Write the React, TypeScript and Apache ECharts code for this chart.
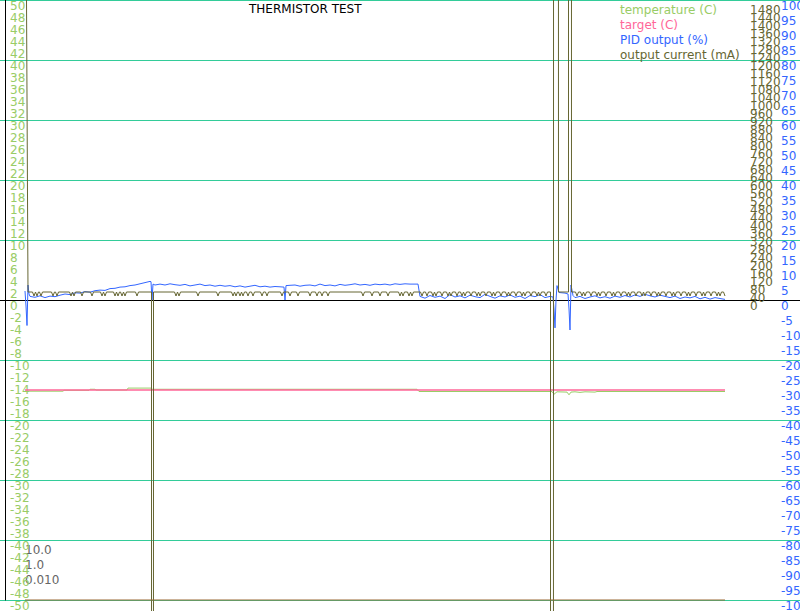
import React, { useEffect, useRef } from 'react';
import * as echarts from 'echarts';

const chartTitle = 'THERMISTOR TEST';
const seriesNames = ['temperature (C)', 'target (C)', 'PID output (%)', 'output current (mA)'];
const seriesColors = ['#99cc66', '#ff6699', '#3366ff', '#666633'];
const pidGains = ['10.0', '1.0', '0.010'];
const FONT = 'DejaVu Sans';

// time (s) , temperature (C)
const temperature: [number, number][] = [
  [0, -15.2], [38, -15.2], [39, -15.05], [64, -15.05], [65, -14.88], [70, -14.88], [71, -15.0],
  [102, -15.0], [103, -14.68], [126, -14.68], [127, -14.88], [392, -14.88], [394, -15.25],
  [527, -15.25], [529, -15.7], [532, -15.3], [542, -15.35], [544, -15.8], [546, -15.35],
  [550, -15.3], [555, -15.4], [560, -15.3], [570, -15.35], [572, -15.25], [700, -15.25],
];

const target: [number, number][] = [[0, -15], [700, -15]];

const floorTrace: [number, number][] = [[0, -50], [700, -50]];

// time (s), PID output (%)
const pidOutput: [number, number][] = [
  [0, 3], [1, -2], [2, -8.5], [3, 5], [4, 2], [5, 1.2], [10, 0.9], [15, 1.4], [20, 0.8], [25, 1.3],
  [30, 1.1], [35, 1.6], [40, 2.0], [45, 1.8], [50, 2.4], [55, 2.3], [60, 2.8], [65, 2.6], [70, 3.1],
  [75, 3.3], [80, 3.2], [85, 3.8], [90, 3.9], [95, 4.3], [100, 4.4], [105, 4.8], [110, 5.0], [115, 5.4],
  [120, 5.8], [125, 6.2], [126, 6.1], [127, 0], [128, 5.3], [130, 5.0], [135, 5.3], [140, 5.0],
  [145, 5.4], [150, 5.1], [155, 4.9], [160, 5.2], [165, 4.7], [170, 5.0], [175, 5.3], [180, 4.8],
  [185, 5.0], [190, 4.6], [195, 4.9], [200, 4.6], [205, 4.8], [210, 4.4], [215, 4.7], [220, 4.3],
  [225, 4.6], [230, 4.9], [235, 4.4], [240, 4.6], [245, 4.3], [250, 4.5], [255, 4.4], [259, 4.3],
  [260, 0], [261, 4.8], [265, 4.9], [270, 5.0], [275, 4.6], [280, 4.9], [285, 5.0], [290, 4.7],
  [295, 5.3], [300, 4.8], [305, 5.0], [310, 4.7], [315, 5.2], [320, 4.9], [325, 5.1], [330, 5.4],
  [335, 5.0], [340, 5.2], [345, 4.9], [350, 5.3], [355, 5.1], [360, 5.3], [365, 5.0], [370, 5.4],
  [375, 5.2], [380, 5.4], [385, 5.3], [390, 5.3], [393, 5.3], [395, 1.2], [400, 0.6], [405, 1.5],
  [410, 0.9], [415, 1.3], [420, 0.5], [425, 1.8], [430, 1.0], [435, 1.4], [440, 0.7], [445, 1.6],
  [450, 1.1], [455, 0.8], [460, 1.9], [465, 1.2], [470, 0.6], [475, 1.4], [480, 1.0], [485, 1.7],
  [490, 0.9], [495, 1.3], [500, 0.5], [505, 1.5], [510, 1.1], [515, 1.8], [520, 0.8], [525, 1.2],
  [528, 1.0], [529, -3], [530, -9.3], [531, 0], [532, 4.8], [534, 2.5], [540, 2.3], [543, 2.0],
  [544, -3], [545, -10], [546, 5], [548, 1.5], [550, 0.8], [555, 1.2], [560, 0.5], [565, 1.0],
  [570, 1.4], [575, 0.7], [580, 1.1], [585, 0.6], [590, 1.3], [595, 0.9], [600, 1.5], [605, 1.0],
  [610, 1.7], [615, 1.2], [620, 1.9], [625, 1.4], [630, 1.0], [635, 1.6], [640, 1.2], [645, 0.8],
  [650, 1.3], [655, 0.5], [660, 1.0], [665, 0.7], [670, 1.2], [675, 0.4], [680, 0.9], [685, 0.3],
  [690, 0.8], [695, 0.5], [700, 0.2],
];

// time (s), output current (mA)
const outputCurrent: [number, number][] = [
  [0, 3000], [3, 40],
  [7.5, 40], [9, 20], [10.5, 40], [12, 20], [13.5, 40], [14.5, 40], [16, 20], [17.5, 40],
  [26.5, 40], [28, 20], [29.5, 40], [30.5, 40], [32, 20], [33.5, 40],
  [44.5, 40], [46, 20], [47.5, 40], [49, 20], [50.5, 40],
  [55.5, 40], [57, 20], [58.5, 40],
  [65.5, 40], [67, 20], [68.5, 40],
  [75.5, 40], [77, 20], [78.5, 40], [80, 20], [81.5, 40],
  [88.5, 40], [90, 20], [91.5, 40], [93, 20], [94.5, 40], [95.5, 40], [97, 20], [98.5, 40], [100, 20], [101.5, 40],
  [110.5, 40], [112, 20], [113.5, 40],
  [126.5, 40], [127.5, -100000], [128.5, 40],
  [149.5, 40], [151, 20], [152.5, 40], [154, 20], [155.5, 40],
  [171.5, 40], [173, 20], [174.5, 40],
  [191.5, 40], [193, 20], [194.5, 40],
  [206.5, 40], [208, 20], [209.5, 40], [211, 20], [212.5, 40], [213.5, 40], [215, 20], [216.5, 40], [218, 20], [219.5, 40],
  [221.5, 40], [223, 20], [224.5, 40], [226.5, 40], [228, 20], [229.5, 40],
  [235.5, 40], [237, 20], [238.5, 40], [240.5, 40], [242, 20], [243.5, 40],
  [255.5, 40], [257, 20], [258.5, 40],
  [263.5, 40], [265, 20], [266.5, 40],
  [271.5, 40], [273, 20], [274.5, 40],
  [283.5, 40], [285, 20], [286.5, 40],
  [290.5, 40], [292, 20], [293.5, 40], [295.5, 40], [297, 20], [298.5, 40], [301.5, 40], [303, 20], [304.5, 40],
  [336.5, 40], [338, 20], [339.5, 40],
  [345.5, 40], [347, 20], [348.5, 40],
  [353.5, 40], [355, 20], [356.5, 40],
  [361.5, 40], [363, 20], [364.5, 40],
  [373.5, 40], [375, 20], [376.5, 40], [378, 20], [379.5, 40], [382.5, 40], [384, 20], [385.5, 40], [387, 20], [388.5, 40],
  [395.5, 40], [397, 20], [398.5, 40],
  [400.5, 40], [402, 20], [403.5, 40],
  [406.5, 40], [408, 20], [409.5, 40], [411, 20], [412.5, 40],
  [415.5, 40], [417, 20], [418.5, 40],
  [421.5, 40], [423, 20], [424.5, 40], [426, 20], [427.5, 40],
  [430.5, 40], [432, 20], [433.5, 40],
  [435.5, 40], [437, 20], [438.5, 40], [440, 20], [441.5, 40],
  [444.5, 40], [446, 20], [447.5, 40],
  [450.5, 40], [452, 20], [453.5, 40], [455, 20], [456.5, 40],
  [459.5, 40], [461, 20], [462.5, 40],
  [465.5, 40], [467, 20], [468.5, 40], [470, 20], [471.5, 40],
  [474.5, 40], [476, 20], [477.5, 40],
  [480.5, 40], [482, 20], [483.5, 40], [485, 20], [486.5, 40],
  [489.5, 40], [491, 20], [492.5, 40],
  [495.5, 40], [497, 20], [498.5, 40], [500, 20], [501.5, 40],
  [504.5, 40], [506, 20], [507.5, 40],
  [510.5, 40], [512, 20], [513.5, 40], [515, 20], [516.5, 40],
  [519.5, 40], [521, 20], [522.5, 40],
  [525.5, 40], [526.5, -100000], [528.5, 40], [530.5, 100000], [533.5, 40],
  [543.5, 40], [544.5, 100000], [546.5, 40],
  [550.5, 40], [552, 20], [553.5, 40],
  [555.5, 40], [557, 20], [558.5, 40], [560, 20], [561.5, 40],
  [564.5, 40], [566, 20], [567.5, 40],
  [570.5, 40], [572, 20], [573.5, 40], [575, 20], [576.5, 40],
  [579.5, 40], [581, 20], [582.5, 40],
  [585.5, 40], [587, 20], [588.5, 40], [590, 20], [591.5, 40],
  [594.5, 40], [596, 20], [597.5, 40],
  [600.5, 40], [602, 20], [603.5, 40], [605, 20], [606.5, 40],
  [609.5, 40], [611, 20], [612.5, 40],
  [615.5, 40], [617, 20], [618.5, 40], [620, 20], [621.5, 40],
  [624.5, 40], [626, 20], [627.5, 40],
  [630.5, 40], [632, 20], [633.5, 40], [635, 20], [636.5, 40],
  [639.5, 40], [641, 20], [642.5, 40],
  [645.5, 40], [647, 20], [648.5, 40], [650, 20], [651.5, 40],
  [654.5, 40], [656, 20], [657.5, 40],
  [660.5, 40], [662, 20], [663.5, 40], [665, 20], [666.5, 40],
  [669.5, 40], [671, 20], [672.5, 40],
  [675.5, 40], [677, 20], [678.5, 40], [680, 20], [681.5, 40],
  [684.5, 40], [686, 20], [687.5, 40],
  [690.5, 40], [692, 20], [693.5, 40], [695, 20], [696.5, 40],
  [698.5, 40], [700, 20],
];

export default function App() {
  const ref = useRef<HTMLDivElement>(null);
  useEffect(() => {
    if (!ref.current) return;
    const chart = echarts.init(ref.current, undefined, { renderer: 'svg' });
    const labelBase = { fontSize: 12, fontFamily: FONT, verticalAlign: 'top' as const, lineHeight: 11 };
    const hidden = { show: false };
    chart.setOption({
      animation: false,
      backgroundColor: '#fff',
      title: {
        text: chartTitle,
        left: 249,
        top: 3,
        padding: 0,
        textStyle: { fontSize: 12, fontWeight: 'normal', color: '#000', fontFamily: FONT },
      },
      legend: {
        orient: 'vertical',
        left: 615,
        top: 4,
        padding: 0,
        itemGap: 3,
        itemWidth: 0,
        itemHeight: 0,
        selectedMode: false,
        textStyle: { fontSize: 12, fontFamily: FONT },
        data: seriesNames.map((n, i) => ({ name: n, icon: 'rect', textStyle: { color: seriesColors[i] } })),
      },
      grid: { left: 0, top: 0, width: 800, height: 600, containLabel: false, outerBoundsMode: 'none' },
      xAxis: {
        type: 'value',
        min: -25,
        max: 775,
        axisLine: { show: true, onZero: true, onZeroAxisIndex: 0, lineStyle: { color: '#000', width: 1 } },
        axisTick: hidden,
        axisLabel: hidden,
        splitLine: hidden,
      },
      yAxis: [
        {
          type: 'value', position: 'left', min: -50, max: 50, interval: 2, offset: -5,
          axisLine: { show: true, onZero: false, lineStyle: { color: '#000', width: 1 } },
          axisTick: hidden, splitLine: hidden,
          axisLabel: { ...labelBase, inside: true, margin: 5, align: 'left', color: '#99cc66' },
        },
        {
          type: 'value', position: 'right', min: -100, max: 100, interval: 5,
          axisLine: { show: false, onZero: false }, axisTick: hidden, splitLine: hidden,
          axisLabel: { ...labelBase, inside: true, margin: 19, align: 'left', color: '#3366ff' },
        },
        {
          type: 'value', position: 'right', min: -1500, max: 1500, interval: 20,
          axisLine: { show: false, onZero: false }, axisTick: hidden, splitLine: hidden,
          axisLabel: {
            ...labelBase, inside: true, margin: 50, align: 'left', color: '#666633',
            formatter: (v: number) => (v >= 0 && v < 1500 && v % 40 === 0 ? String(v) : ''),
          },
        },
        {
          type: 'value', position: 'left', min: -50, max: 50, interval: 10,
          axisLine: { show: false, onZero: false }, axisTick: hidden, axisLabel: hidden,
          splitLine: { show: true, lineStyle: { color: '#33cc99', width: 1 } },
        },
      ],
      graphic: pidGains.map((s, i) => ({
        type: 'text',
        left: 25,
        top: 544 + 15 * i,
        style: { text: s, fill: '#666666', font: `12px "${FONT}"` },
      })),
      series: [
        {
          name: seriesNames[0], type: 'line', yAxisIndex: 0, data: temperature, symbol: 'none',
          lineStyle: { width: 1, color: seriesColors[0] }, itemStyle: { color: seriesColors[0] },
        },
        {
          name: seriesNames[1], type: 'line', yAxisIndex: 0, data: target, symbol: 'none',
          lineStyle: { width: 1.5, color: seriesColors[1] }, itemStyle: { color: seriesColors[1] },
        },
        {
          name: seriesNames[2], type: 'line', yAxisIndex: 1, data: pidOutput, symbol: 'none',
          lineStyle: { width: 1, color: seriesColors[2] }, itemStyle: { color: seriesColors[2] },
        },
        {
          name: seriesNames[3], type: 'line', yAxisIndex: 2, data: outputCurrent, symbol: 'none', clip: false,
          lineStyle: { width: 1, color: seriesColors[3] }, itemStyle: { color: seriesColors[3] },
        },
        {
          name: 'floor', type: 'line', yAxisIndex: 0, data: floorTrace, symbol: 'none', clip: false, z: 3,
          lineStyle: { width: 1, color: '#996633' }, itemStyle: { color: '#996633' },
        },
      ],
    });
    return () => chart.dispose();
  }, []);
  return (
    <div
      ref={ref}
      style={{ position: 'fixed', left: 0, top: 0, width: 800, height: 611, background: '#fff' }}
    />
  );
}
